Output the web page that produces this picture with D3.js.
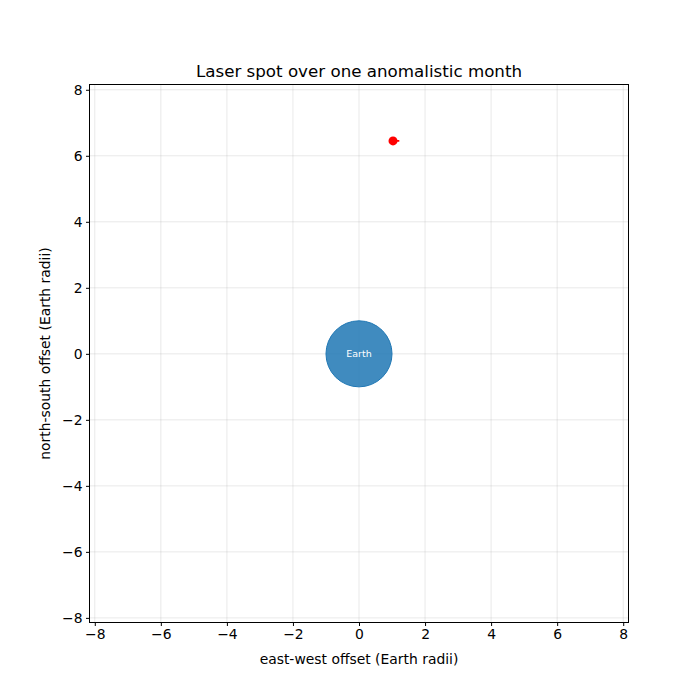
<!DOCTYPE html>
<html>
<head>
<meta charset="utf-8">
<script src="https://cdn.jsdelivr.net/npm/d3@7"></script>
<style>
  body { margin: 0; background: #fff; }
  svg { font-family: "DejaVu Sans", sans-serif; }
</style>
</head>
<body>
<div id="chart"></div>
<script>
// ticks
const xTicks = [-8, -6, -4, -2, 0, 2, 4, 6, 8];
const yTicks = [-8, -6, -4, -2, 0, 2, 4, 6, 8];

// Earth disc (centre + radius, in Earth radii)
const earthCenter = [0, 0];
const earthRadius = 1;

// laser spot path over the month (Earth radii)
const spotX = [1.03, 1.07, 1.12, 1.17, 1.22, 1.17, 1.11, 1.06, 1.03];
const spotY = [6.45, 6.45, 6.45, 6.45, 6.45, 6.45, 6.45, 6.45, 6.45];
// marker at start position
const spotNow = [1.03, 6.45];

const width = 700, height = 700;
const plotL = 89.5, plotR = 628.5, plotT = 84.5, plotB = 622.5;

const svg = d3.select('#chart').append('svg')
  .attr('width', width)
  .attr('height', height);

const x = d3.scaleLinear().domain([-8.16, 8.16]).range([plotL, plotR]);
const y = d3.scaleLinear().domain([-8.14, 8.16]).range([plotB, plotT]);

// grid
const grid = svg.append('g');
grid.selectAll('line.gx')
  .data(xTicks)
  .join('line')
  .attr('class', 'gx')
  .attr('x1', d => x(d)).attr('x2', d => x(d))
  .attr('y1', plotT).attr('y2', plotB)
  .attr('stroke', '#b0b0b0').attr('stroke-opacity', 0.35).attr('stroke-width', 0.8);
grid.selectAll('line.gy')
  .data(yTicks)
  .join('line')
  .attr('class', 'gy')
  .attr('y1', d => y(d)).attr('y2', d => y(d))
  .attr('x1', plotL).attr('x2', plotR)
  .attr('stroke', '#b0b0b0').attr('stroke-opacity', 0.35).attr('stroke-width', 0.8);

// Earth
const r = x(earthRadius) - x(0);
svg.append('circle')
  .attr('cx', x(earthCenter[0]))
  .attr('cy', y(earthCenter[1]))
  .attr('r', r)
  .attr('fill', '#1f77b4')
  .attr('fill-opacity', 0.85)
  .attr('stroke', '#1f77b4')
  .attr('stroke-width', 1);
svg.append('text')
  .attr('x', x(earthCenter[0]))
  .attr('y', y(earthCenter[1]))
  .attr('dy', '0.35em')
  .attr('text-anchor', 'middle')
  .attr('font-size', '9.5px')
  .attr('fill', '#fff')
  .text('Earth');

// spot path
const line = d3.line().x(d => x(d[0])).y(d => y(d[1]));
svg.append('path')
  .datum(d3.zip(spotX, spotY))
  .attr('d', line)
  .attr('fill', 'none')
  .attr('stroke', 'red')
  .attr('stroke-width', 1.8);
svg.append('circle')
  .attr('cx', x(spotNow[0]))
  .attr('cy', y(spotNow[1]))
  .attr('r', 4.5)
  .attr('fill', 'red');

// axes
const fmt = d => d < 0 ? '\u2212' + Math.abs(d) : d;
const xAxis = svg.append('g')
  .attr('transform', `translate(0,${plotB})`)
  .call(d3.axisBottom(x).tickValues(xTicks).tickSize(3.5).tickPadding(3.5).tickFormat(fmt));
const yAxis = svg.append('g')
  .attr('transform', `translate(${plotL},0)`)
  .call(d3.axisLeft(y).tickValues(yTicks).tickSize(3.5).tickPadding(3.5).tickFormat(fmt));
[xAxis, yAxis].forEach(a => {
  a.select('.domain').remove();
  a.selectAll('text').attr('font-size', '13.9px').attr('fill', '#000')
    .attr('font-family', '"DejaVu Sans", sans-serif');
  a.selectAll('line').attr('stroke', '#000').attr('stroke-width', 1);
});

// frame
svg.append('rect')
  .attr('x', plotL).attr('y', plotT)
  .attr('width', plotR - plotL).attr('height', plotB - plotT)
  .attr('fill', 'none').attr('stroke', '#000').attr('stroke-width', 1);

// titles
svg.append('text')
  .attr('x', (plotL + plotR) / 2).attr('y', plotT - 8)
  .attr('text-anchor', 'middle')
  .attr('font-size', '16.7px')
  .text('Laser spot over one anomalistic month');
svg.append('text')
  .attr('x', (plotL + plotR) / 2).attr('y', 664)
  .attr('text-anchor', 'middle')
  .attr('font-size', '13.9px')
  .text('east-west offset (Earth radii)');
svg.append('text')
  .attr('transform', `translate(50,${(plotT + plotB) / 2}) rotate(-90)`)
  .attr('text-anchor', 'middle')
  .attr('font-size', '13.9px')
  .text('north-south offset (Earth radii)');
</script>
</body>
</html>
